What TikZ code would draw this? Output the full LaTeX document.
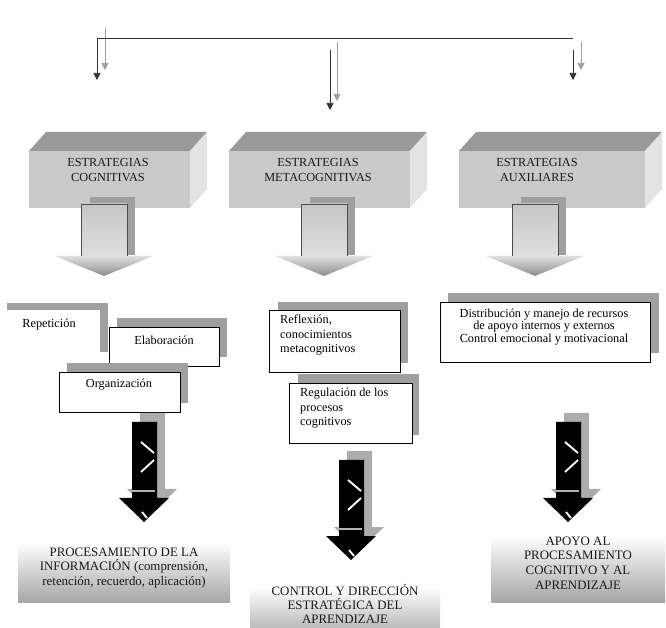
\documentclass[tikz,border=0pt]{standalone}
\usepackage{fontspec}
\setmainfont{Liberation Serif}
\usetikzlibrary{arrows.meta}

\tikzset{
  lbl/.style={font=\fontsize{10.5}{12.2}\selectfont, align=center, inner sep=0pt},
  caps/.style={font=\fontsize{11}{12.6}\selectfont, align=center, inner sep=0pt, text=black!90},
  shadowbox/.style={fill=gray!75},
  card/.style={draw=black, line width=0.5pt, fill=white},
  blackline/.style={draw=black!80, line width=0.6pt, -{Triangle[width=6pt,length=6pt]}},
  grayline/.style={draw=gray!75, line width=0.6pt, -{Triangle[width=6pt,length=6pt]}},
}

\begin{document}
\begin{tikzpicture}[x=0.03cm, y=-0.03cm]
	\useasboundingbox (0,0) rectangle (666,628);

	% top bracket
	\coordinate (bar-l) at (97,38);
	\coordinate (bar-r) at (573,38);
	\coordinate (l-end) at (97,80);
	\coordinate (gl-beg) at (105,28);
	\coordinate (gl-end) at (105,70);
	\coordinate (m-beg) at (330,50);
	\coordinate (m-end) at (330,110);
	\coordinate (gm-beg) at (337,42);
	\coordinate (gm-end) at (337,101);
	\coordinate (r-beg) at (573,50);
	\coordinate (r-end) at (573,80);
	\coordinate (gr-beg) at (581,42);
	\coordinate (gr-end) at (581,70);
	\draw[grayline] (gl-beg) -- (gl-end);
	\draw[grayline] (gm-beg) -- (gm-end);
	\draw[grayline] (gr-beg) -- (gr-end);
	\draw[black!80, line width=0.6pt] (bar-l) -- (bar-r);
	\draw[blackline] (bar-l) -- (l-end);
	\draw[blackline] (m-beg) -- (m-end);
	\draw[blackline] (r-beg) -- (r-end);

	% the three blocks
	\foreach \n/\a/\b/\tx/\txt in {cog/29/190/108/{ESTRATEGIAS\\COGNITIVAS}, meta/229/410/318/{ESTRATEGIAS\\METACOGNITIVAS}, aux/459/645/537/{ESTRATEGIAS\\AUXILIARES}} {
		\fill[gray!80] (\a,151) -- (\a+17,132) -- (\b+17,132) -- (\b,151) -- cycle;
		\fill[gray!22] (\b,151) -- (\b+17,132) -- (\b+17,189) -- (\b,208) -- cycle;
		\fill[gray!42] (\a,151) rectangle (\b,208);
		\node[caps, font=\fontsize{10.5}{12.6}\selectfont] (\n) at (\tx,170) {\txt};
	}

	% hollow arrows
	\foreach \c in {104,324,535} {
		\fill[gray!75] (\c-14,197) rectangle (\c+31,255);
		\shade[top color=gray!45, middle color=white, bottom color=gray!25] (\c-23,204) rectangle (\c+23,257);
		\draw[black!70, line width=0.4pt] (\c-23,257) -- (\c-23,204) -- (\c+23,204) -- (\c+23,257);
		\shade[top color=gray!25, bottom color=gray!90] (\c-49,256) -- (\c+49,256) -- (\c,276) -- cycle;
	}

	% cards
	\fill[shadowbox] (7,303) rectangle (108,352);
	\fill[white] (0,310) rectangle (100,360);
	\node[lbl] (rep) at (49,325) {Repetición};

	\fill[shadowbox] (117,318) rectangle (227,357);
	\draw[card] (109,327) rectangle (219,366);
	\node[lbl] (elab) at (164,340) {Elaboración};

	\fill[shadowbox] (67,363) rectangle (188,403);
	\draw[card] (59,372) rectangle (180,412);
	\node[lbl] (org) at (119,385) {Organización};

	\fill[shadowbox] (278,302) rectangle (408,363);
	\draw[card] (269,310) rectangle (400,372);
	\node[lbl, align=left, anchor=north west] (refl) at (280,315) {Reflexión,\\conocimientos\\metacognitivos};

	\fill[shadowbox] (298,374) rectangle (419,435);
	\draw[card] (289,383) rectangle (412,443);
	\node[lbl, align=left, anchor=north west] (reg) at (300,388) {Regulación de los\\procesos\\cognitivos};

	\fill[shadowbox] (448,293) rectangle (659,353);
	\draw[card] (440,302) rectangle (650,362);
	\node[lbl, font=\fontsize{10.5}{10.9}\selectfont] (dist) at (544,327) {Distribución y manejo de recursos\\de apoyo internos y externos\\Control emocional y motivacional};

	% black arrows
	\foreach \c/\t in {144/422, 351/460, 568/422} {
		\fill[gray!65] (\c-4,\t-9) -- (\c+21,\t-9) -- (\c+21,\t+67) -- (\c+33,\t+67) -- (\c+8,\t+91) -- (\c-17,\t+67) -- (\c-4,\t+67) -- cycle;
		\fill[black] (\c-12,\t) -- (\c+13,\t) -- (\c+13,\t+76) -- (\c+25,\t+76) -- (\c,\t+100) -- (\c-25,\t+76) -- (\c-12,\t+76) -- cycle;
		\draw[white, line width=1.6pt] (\c-3,\t+20) -- (\c+10,\t+31) (\c+10,\t+38) -- (\c-3,\t+50);
		\draw[gray!60, line width=1pt] (\c-12,\t+69) -- (\c+11,\t+69);
		\draw[white, line width=1.6pt] (\c-2,\t+90) -- (\c+3,\t+96);
	}

	% results
	\shade[top color=white, bottom color=gray!70] (18,542) rectangle (230,602);
	\node[caps] (proc) at (124,568) {PROCESAMIENTO DE LA\\INFORMACIÓN (comprensión,\\retención, recuerdo, aplicación)};

	\shade[top color=white, bottom color=gray!70] (250,587) rectangle (440,640);
	\node[caps, font=\fontsize{11}{12}\selectfont] (ctrl) at (345,604) {CONTROL Y DIRECCIÓN\\ESTRATÉGICA DEL\\APRENDIZAJE};

	\shade[top color=white, bottom color=gray!70] (491,535) rectangle (665,602);
	\node[caps] (apoyo) at (578,563) {APOYO AL\\PROCESAMIENTO\\COGNITIVO Y AL\\APRENDIZAJE};
\end{tikzpicture}
\end{document}
